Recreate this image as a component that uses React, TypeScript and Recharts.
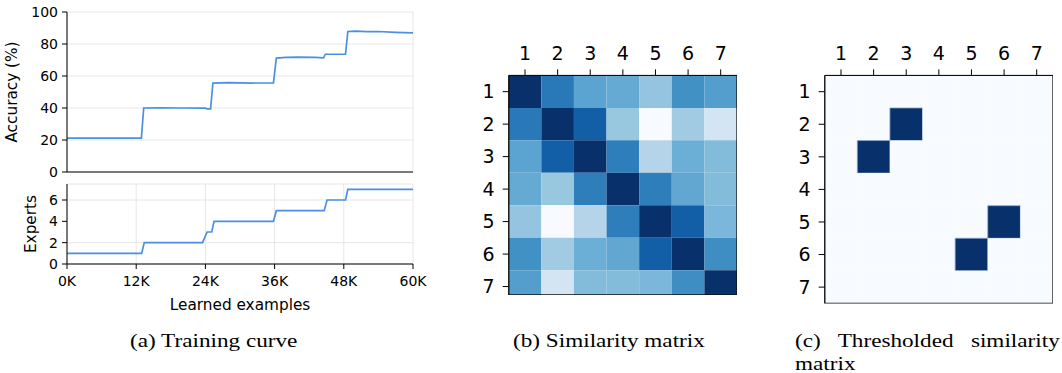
import React from 'react';
import {
  LineChart,
  Line,
  XAxis,
  YAxis,
  CartesianGrid,
  ScatterChart,
  Scatter,
  ReferenceArea,
} from 'recharts';

// training curve (learned examples -> accuracy %)
const accSteps = [0, 12900, 13300, 16000, 20000, 24000, 24300, 24900, 25300, 28000, 32000, 35800, 36300, 38000, 40000, 43000, 44500, 44800, 48300, 48700, 50000, 52000, 54000, 57000, 60000];
const accValues = [21.2, 21.2, 40, 40.1, 40, 39.9, 39.5, 39.4, 55.5, 55.8, 55.6, 55.7, 71.2, 71.6, 71.8, 71.6, 71.3, 73.6, 73.6, 87.8, 88.1, 87.7, 87.8, 87.3, 87];

// number of experts
const expSteps = [0, 12950, 13400, 23500, 24300, 25100, 25500, 35800, 36300, 44600, 45100, 48300, 48700, 60000];
const expValues = [1, 1, 2, 2, 3, 3, 4, 4, 5, 5, 6, 6, 7, 7];

const xTicks = [0, 12000, 24000, 36000, 48000, 60000];
const xTickLabels = ['0K', '12K', '24K', '36K', '48K', '60K'];
const accTicks = [0, 20, 40, 60, 80, 100];
const expTicks = [0, 2, 4, 6];

// similarity between experts 1..7 (0 = white, 1 = dark navy)
const simRow1 = [1.0, 0.72, 0.55, 0.52, 0.4, 0.63, 0.57];
const simRow2 = [0.72, 1.0, 0.82, 0.39, 0.0, 0.37, 0.18];
const simRow3 = [0.55, 0.82, 1.0, 0.7, 0.3, 0.5, 0.44];
const simRow4 = [0.52, 0.39, 0.7, 1.0, 0.7, 0.53, 0.44];
const simRow5 = [0.4, 0.0, 0.3, 0.7, 1.0, 0.82, 0.46];
const simRow6 = [0.63, 0.37, 0.5, 0.53, 0.82, 1.0, 0.64];
const simRow7 = [0.57, 0.18, 0.44, 0.44, 0.46, 0.64, 1.0];
const simMatrix = [simRow1, simRow2, simRow3, simRow4, simRow5, simRow6, simRow7];

// thresholded pairs (row, col)
const thresholdPairs = [[2, 3], [3, 2], [5, 6], [6, 5]];

const expertIds = [1, 2, 3, 4, 5, 6, 7];

const BLUES = ['#f7fbff', '#deebf7', '#c6dbef', '#9ecae1', '#6baed6', '#4292c6', '#2171b5', '#08519c', '#08306b'];

const hexToRgb = (h: string) => [1, 3, 5].map((i) => parseInt(h.slice(i, i + 2), 16));
const blues = (v: number) => {
  const t = Math.max(0, Math.min(1, v)) * (BLUES.length - 1);
  const i = Math.min(Math.floor(t), BLUES.length - 2);
  const f = t - i;
  const a = hexToRgb(BLUES[i]);
  const b = hexToRgb(BLUES[i + 1]);
  const c = a.map((ai, k) => Math.round(ai + (b[k] - ai) * f));
  return `rgb(${c[0]},${c[1]},${c[2]})`;
};

const FONT = 'DejaVu Sans, sans-serif';
const LINE = '#4a90e2';
const GRID = '#e6e6e6';

const accData = accSteps.map((x, i) => ({ x, acc: accValues[i] }));
const expData = expSteps.map((x, i) => ({ x, experts: expValues[i] }));

const cells = simMatrix.flatMap((row, r) => row.map((v, c) => ({ col: c + 1, row: r + 1, v })));
const threshCells = expertIds.flatMap((r) =>
  expertIds.map((c) => ({
    col: c,
    row: r,
    v: thresholdPairs.some(([pr, pc]) => pr === r && pc === c) ? 1 : 0,
  }))
);

const tickStyle = { fontSize: 14, fill: '#000', fontFamily: FONT };
const titleStyle = { fontSize: 15.3, fill: '#000', fontFamily: FONT };
const bigTick = { fontSize: 19, fill: '#000', fontFamily: FONT };

const Heatmap: React.FC<{
  data: { col: number; row: number; v: number }[];
  width: number;
  height: number;
  margin: { top: number; right: number; bottom: number; left: number };
  yMax: number;
  edge?: boolean;
}> = ({ data, width, height, margin, yMax, edge }) => (
  <ScatterChart width={width} height={height} margin={margin}>
    <XAxis
      type='number'
      dataKey='col'
      orientation='top'
      domain={[0.5, 7.5]}
      ticks={expertIds}
      allowDataOverflow
      height={40}
      tick={bigTick}
      tickSize={6}
      tickMargin={9}
      stroke='#000'
    />
    <YAxis
      type='number'
      dataKey='row'
      domain={[0.5, yMax]}
      reversed
      ticks={expertIds}
      allowDataOverflow
      width={40}
      tick={bigTick}
      tickSize={6}
      tickMargin={8}
      stroke='#000'
    />
    <Scatter data={data} isAnimationActive={false} fill='none' shape={() => <g />} />
    {data.map((d) => (
      <ReferenceArea
        key={`${d.row}-${d.col}`}
        x1={d.col - 0.5}
        x2={d.col + 0.5}
        y1={d.row - 0.5}
        y2={d.row + 0.5}
        ifOverflow='hidden'
        fill={blues(d.v)}
        fillOpacity={1}
        stroke={edge && d.v > 0.5 ? '#8aa4cc' : 'none'}
        strokeWidth={0.8}
      />
    ))}
    <ReferenceArea x1={0.5} x2={7.5} y1={0.5} y2={yMax} ifOverflow='hidden' fill='none' stroke='#111' strokeWidth={1.3} />
  </ScatterChart>
);

const captionStyle: React.CSSProperties = {
  position: 'absolute',
  fontFamily: '"Liberation Serif", "Times New Roman", serif',
  fontSize: 19,
  lineHeight: '23px',
  color: '#000',
  transform: 'scaleX(1.22)',
  transformOrigin: 'left top',
  whiteSpace: 'normal',
};

const App: React.FC = () => {
  return (
    <div style={{ position: 'absolute', left: 0, top: 0, width: 1062, height: 373, background: '#fff', overflow: 'hidden' }}>
      <div style={{ position: 'absolute', left: 0, top: 0 }}>
        <LineChart width={430} height={180} data={accData} margin={{ top: 12, right: 17, bottom: 0, left: 17 }}>
          <CartesianGrid stroke={GRID} />
          <XAxis
            type='number'
            dataKey='x'
            domain={[0, 60000]}
            ticks={xTicks}
            tick={false}
            height={8}
            tickSize={5}
            stroke='#000'
          />
          <YAxis
            type='number'
            domain={[0, 100]}
            ticks={accTicks}
            width={50}
            tick={tickStyle}
            tickSize={5}
            tickMargin={4}
            stroke='#000'
            label={{ value: 'Accuracy (%)', angle: -90, position: 'center', dx: -30, style: titleStyle }}
          />
          <Line type='linear' dataKey='acc' stroke={LINE} strokeWidth={1.7} dot={false} isAnimationActive={false} />
        </LineChart>
      </div>
      <div style={{ position: 'absolute', left: 0, top: 176 }}>
        <LineChart width={430} height={140} data={expData} margin={{ top: 8, right: 17, bottom: 0, left: 17 }}>
          <CartesianGrid stroke={GRID} />
          <XAxis
            type='number'
            dataKey='x'
            domain={[0, 60000]}
            ticks={xTicks}
            tickFormatter={(v: number) => xTickLabels[xTicks.indexOf(v)]}
            height={52}
            tick={tickStyle}
            tickSize={5}
            tickMargin={7}
            stroke='#000'
            label={{ value: 'Learned examples', position: 'insideBottom', offset: 6, style: titleStyle }}
          />
          <YAxis
            type='number'
            domain={[0, 7.5]}
            ticks={expTicks}
            allowDataOverflow
            width={50}
            tick={tickStyle}
            tickSize={5}
            tickMargin={4}
            stroke='#000'
            label={{ value: 'Experts', angle: -90, position: 'center', dx: -11, style: titleStyle }}
          />
          <Line type='linear' dataKey='experts' stroke={LINE} strokeWidth={1.7} dot={false} isAnimationActive={false} />
        </LineChart>
      </div>
      <div style={{ position: 'absolute', left: 440, top: 0 }}>
        <Heatmap data={cells} width={310} height={310} margin={{ top: 35.4, right: 13, bottom: 15, left: 28.7 }} yMax={7.26} />
      </div>
      <div style={{ position: 'absolute', left: 760, top: 0 }}>
        <Heatmap data={threshCells} width={302} height={310} margin={{ top: 35.4, right: 9, bottom: 6.6, left: 24.7 }} yMax={7.5} edge />
      </div>
      <div style={{ ...captionStyle, left: 130, top: 329 }}>(a) Training curve</div>
      <div style={{ ...captionStyle, left: 513, top: 329 }}>(b) Similarity matrix</div>
      <div style={{ ...captionStyle, left: 795, top: 329, width: 217, textAlign: 'justify' }}>
        (c) Thresholded similarity matrix
      </div>
    </div>
  );
};

export default App;
